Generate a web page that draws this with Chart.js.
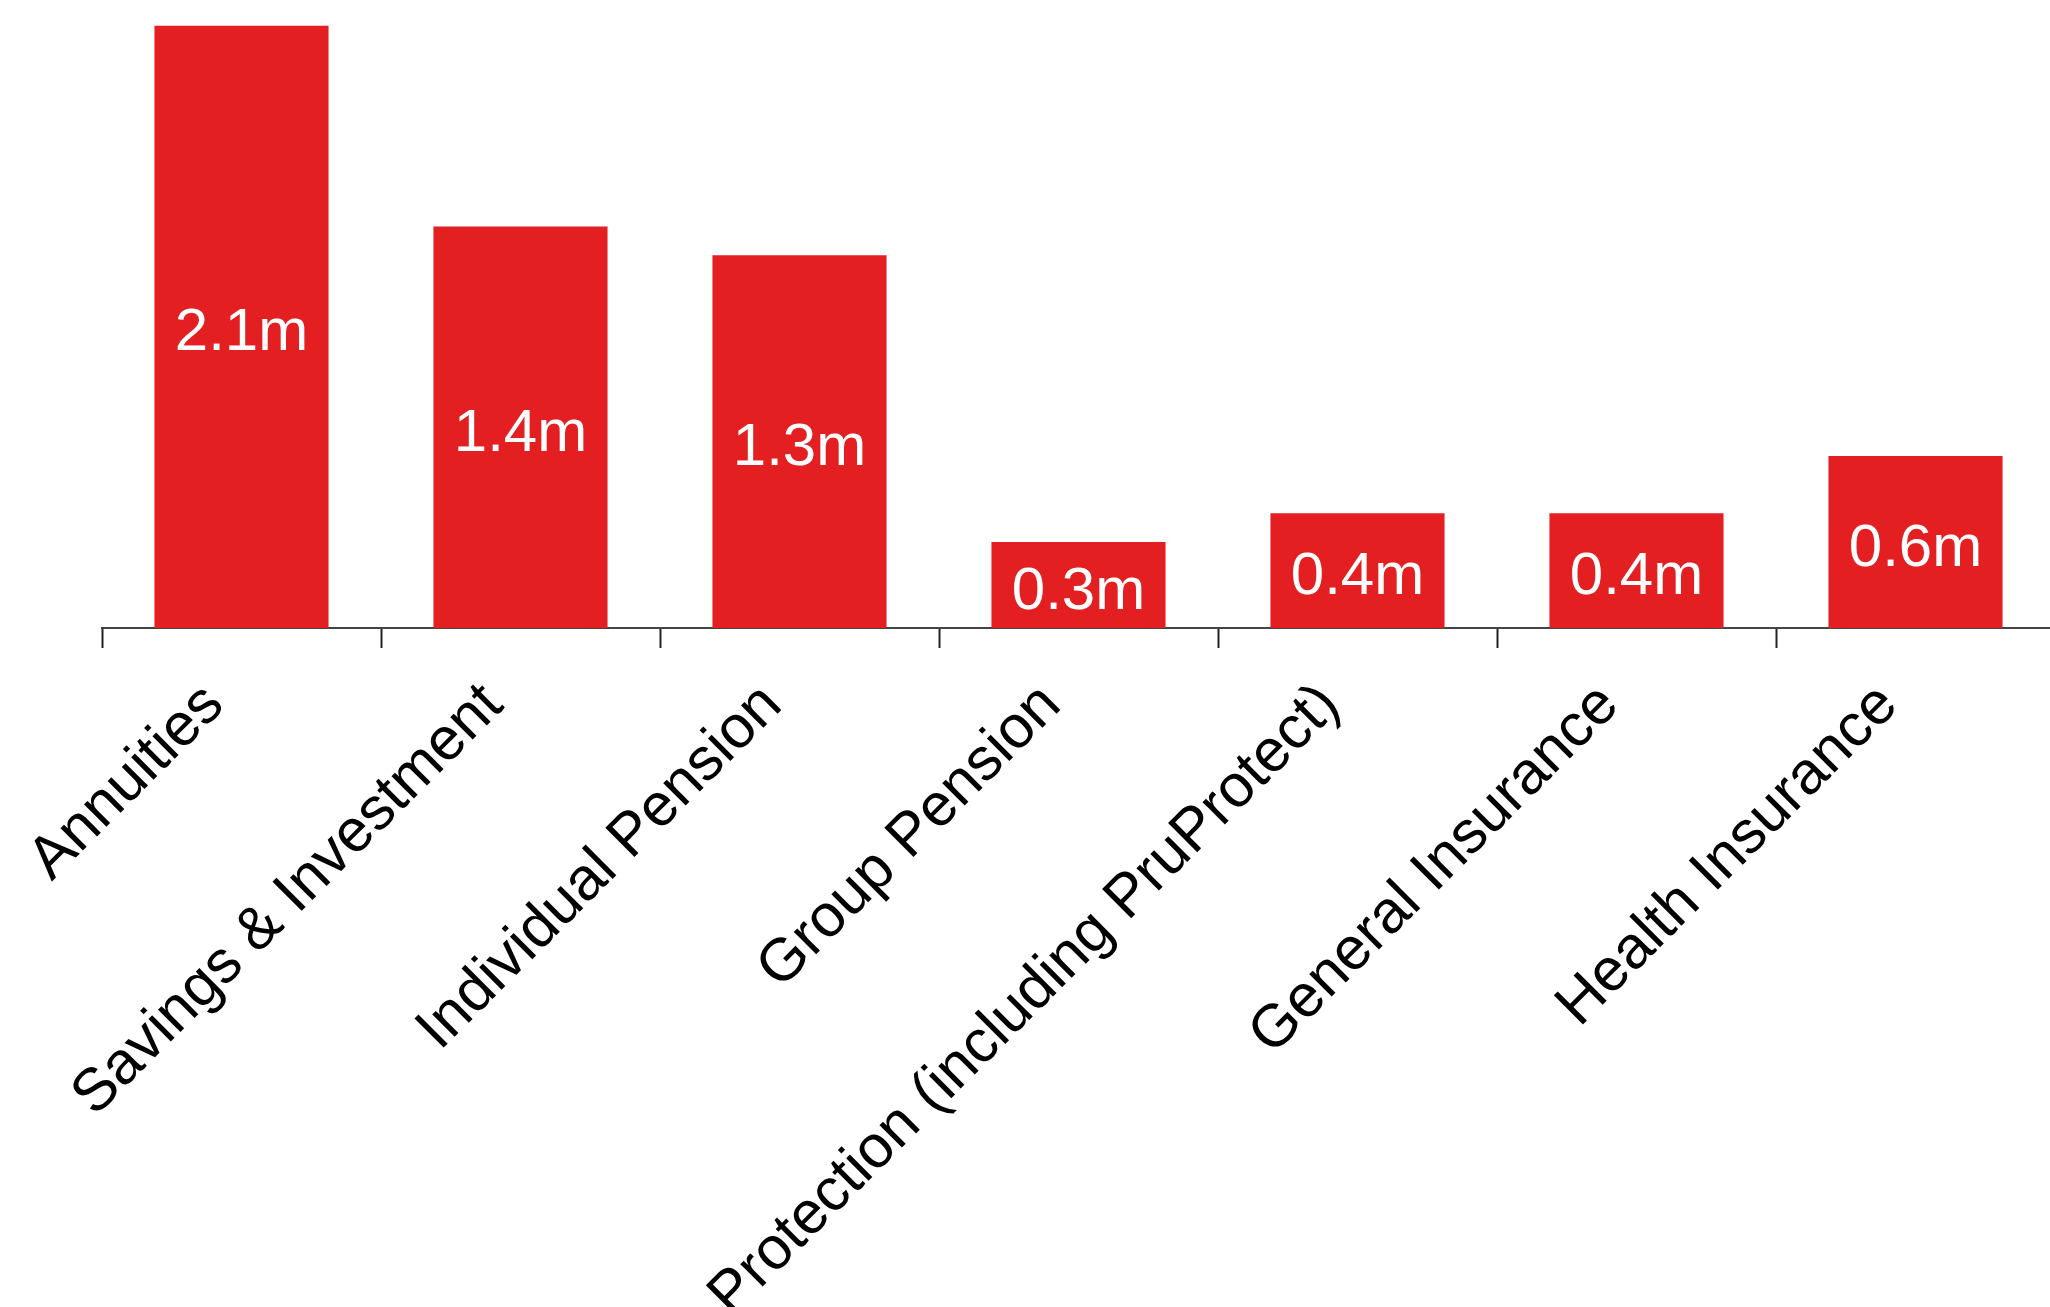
<!DOCTYPE html>
<html>
<head>
<meta charset="utf-8">
<script src="https://cdn.jsdelivr.net/npm/chart.js@4.4.1/dist/chart.umd.min.js"></script>
<style>
  html, body { margin: 0; padding: 0; background: #fff; overflow: hidden; }
  #wrap { width: 2050px; height: 1307px; overflow: hidden; position: relative; }
  #box { width: 2062px; height: 1307px; position: absolute; left: 0; top: 0; }
</style>
</head>
<body>
<div id="wrap"><div id="box"><canvas id="myChart"></canvas></div></div>
<script>
// customers by product line, millions
const categories = [
  'Annuities',
  'Savings & Investment',
  'Individual Pension',
  'Group Pension',
  'Protection (including PruProtect)',
  'General Insurance',
  'Health Insurance'
];
const customers = [2.1, 1.4, 1.3, 0.3, 0.4, 0.4, 0.6];
const valueLabels = ['2.1m', '1.4m', '1.3m', '0.3m', '0.4m', '0.4m', '0.6m'];

const FONT = '"Liberation Sans", Arial, Helvetica, sans-serif';

// writes the value inside each bar, centred vertically
const barLabels = {
  id: 'barLabels',
  afterDatasetsDraw(chart) {
    const ctx = chart.ctx;
    const meta = chart.getDatasetMeta(0);
    ctx.save();
    ctx.fillStyle = '#ffffff';
    ctx.font = '60px ' + FONT;
    ctx.textAlign = 'center';
    ctx.textBaseline = 'middle';
    meta.data.forEach((bar, i) => {
      const p = bar.getProps(['x', 'y', 'base'], true);
      ctx.fillText(valueLabels[i], p.x, (p.y + p.base) / 2 + 7);
    });
    ctx.restore();
  }
};

const ctx = document.getElementById('myChart').getContext('2d');
new Chart(ctx, {
  type: 'bar',
  data: {
    labels: categories,
    datasets: [{
      data: customers,
      backgroundColor: '#e31f21',
      borderWidth: 0,
      barPercentage: 0.624,
      categoryPercentage: 1
    }]
  },
  options: {
    responsive: true,
    maintainAspectRatio: false,
    animation: false,
    layout: { padding: { left: 102, right: 7, top: 0, bottom: 0 } },
    plugins: {
      legend: { display: false },
      tooltip: { enabled: false }
    },
    scales: {
      x: {
        afterFit(scale) { scale.height = 679; },
        border: { display: true, color: '#444444', width: 2 },
        grid: {
          offset: true,
          drawOnChartArea: false,
          drawTicks: true,
          tickLength: 20,
          tickWidth: 2,
          color: '#222222'
        },
        ticks: {
          color: '#000000',
          font: { family: FONT, size: 60 },
          minRotation: 45,
          maxRotation: 45,
          autoSkip: false,
          padding: 22,
          labelOffset: -27
        }
      },
      y: {
        display: false,
        min: 0,
        max: 2.19
      }
    }
  },
  plugins: [barLabels]
});
</script>
</body>
</html>
